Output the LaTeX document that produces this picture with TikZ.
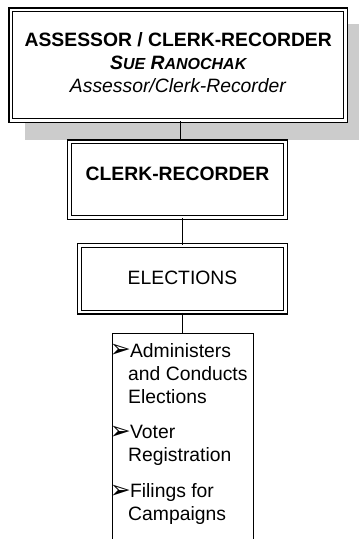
\documentclass[tikz,border=0pt]{standalone}
\usepackage{fontspec}
\setmainfont{Liberation Sans}
\newfontfamily\dingfont{DejaVu Sans}
\usetikzlibrary{backgrounds}
\definecolor{shadowgray}{RGB}{204,204,204}
\newcommand{\itemarrow}{\makebox[13pt][l]{\hspace*{-2.4pt}\makebox[0pt][l]{\raisebox{-0.6pt}{\smash{\dingfont\fontsize{19}{17}\selectfont ➢}}}}}
\newcommand{\contindent}{\hspace*{11.6pt}}
\begin{document}
\begin{tikzpicture}[x=0.75pt,y=-0.75pt,
  dbox/.style={draw, line width=0.8pt, double=white, double distance=1.9pt,
    fill=white, inner sep=0pt, align=center,
    font=\fontsize{14.5}{17}\selectfont},
  listbox/.style={draw, line width=0.75pt, fill=white, inner sep=0pt},
  listtext/.style={inner sep=0pt, align=left, font=\fontsize{14.5}{17.25}\selectfont},
  link/.style={draw, line width=0.75pt}]
\useasboundingbox (0,0) rectangle (358,539);
\clip (0,0) rectangle (358,539);

% top box
\node[dbox, minimum width=251.2pt, minimum height=83.2pt] (top) at (178.25,65.25)
  {\textbf{ASSESSOR / CLERK-RECORDER}\\
   {\bfseries\itshape S{\fontsize{12}{17}\selectfont UE} R{\fontsize{12}{17}\selectfont ANOCHAK}}\\
   \textit{Assessor/Clerk-Recorder}\rule[-4pt]{0pt}{4pt}};
\begin{scope}[on background layer]
  \fill[shadowgray] (24.5,24) rectangle (360,139.5);
\end{scope}

% clerk-recorder
\node[dbox, minimum width=162.3pt, minimum height=56.6pt, text depth=9.3pt] (clerk) at (177.5,179.5)
  {\textbf{CLERK-RECORDER}};

% elections
\node[dbox, minimum width=154.8pt, minimum height=50.2pt, text depth=2.2pt] (elec) at (182.5,278.75)
  {ELECTIONS};

% list box (runs off the bottom edge)
\node[listbox, anchor=north, minimum width=105.75pt, minimum height=200pt] (list) at (182.5,333) {};
\node[listtext, anchor=north west] (items) at (112.5,342.9)
  {\itemarrow Administers\\
   \contindent and Conducts\\
   \contindent Elections\\[9.4pt]
   \itemarrow Voter\\
   \contindent Registration\\[9.4pt]
   \itemarrow Filings for\\
   \contindent Campaigns};

% connectors
\path[link] ([xshift=1.75]top.south) -- ([xshift=1.75]top.south |- clerk.north);
\path[link] (elec.north) -- (elec.north |- clerk.south);
\path[link] (elec.south) -- (list.north);
\end{tikzpicture}
\end{document}
